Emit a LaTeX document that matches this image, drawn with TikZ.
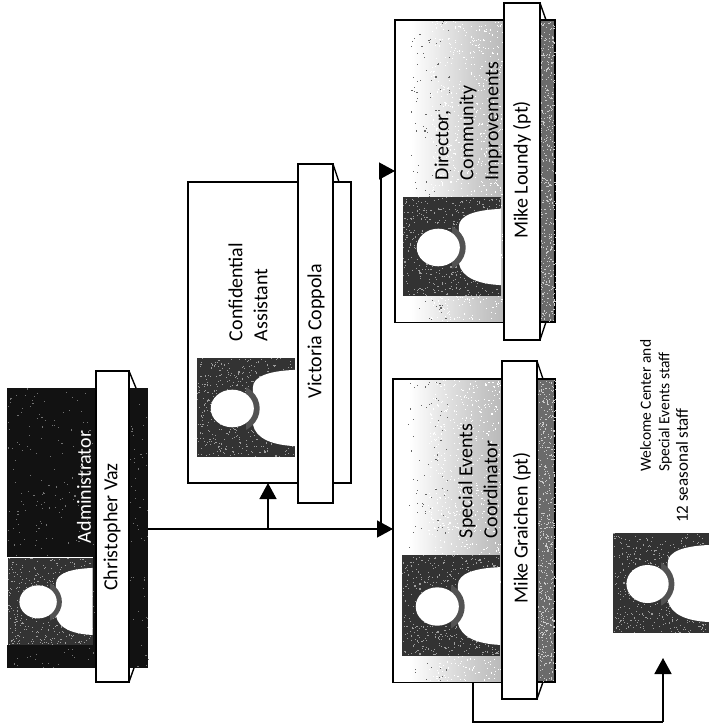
\documentclass[tikz,border=0pt]{standalone}
\usepackage{fontspec}
\setmainfont{Carlito}
\usetikzlibrary{arrows.meta}
\pgfdeclarehorizontalshading{fadegray}{100bp}{color(0bp)=(white);color(32bp)=(white);color(62bp)=(white!80!black);color(100bp)=(white!58!black)}
\definecolor{photodark}{gray}{0.2}
\definecolor{admindark}{gray}{0.07}
\definecolor{stripdark}{gray}{0.42}
\tikzset{
  x=1pt,y=-1pt,
  card/.style={draw=black,line width=2pt,inner sep=0pt,outer sep=0pt},
  plate/.style={card,fill=white},
  bareblock/.style={draw=none,inner sep=0pt,outer sep=0pt},
  lab/.style={rotate=90,font=\fontsize{20}{25}\selectfont,inner sep=0pt,align=left},
  smalllab/.style={rotate=90,font=\fontsize{15.5}{18.5}\selectfont,inner sep=0pt,align=left},
  link/.style={draw=black,line width=1.3pt},
  heavylink/.style={draw=black,line width=1.8pt},
  tip/.style={-{Triangle[length=16pt,width=17pt]}},
}
\newcommand{\specks}[6]{% x0 y0 w h count colour
  \foreach \i in {1,...,#5}{%
    \pgfmathsetmacro{\sa}{#1+#3*rnd}%
    \pgfmathsetmacro{\sb}{#2+#4*rnd}%
    \fill[#6] (\sa,\sb) rectangle ++(1.1,1.1);
  }%
}
\newcommand{\personat}[4]{% x0 y0 w h
  \begin{scope}[shift={(#1,#2)},x=#3pt/100,y=-#4pt/100]
    \fill[photodark] (0,0) rectangle (100,100);
    \specks{0}{0}{99}{99}{500}{white!62!black}
    \fill[white] (100,12) .. controls (75,13) and (57,18) .. (57,30) -- (57,67) .. controls (60,82) and (78,88) .. (100,89) -- cycle;
    \begin{scope}
      \clip (50,0) rectangle (100,100);
      \fill[black!68] (36,51) ellipse (28 and 25);
    \end{scope}
    \fill[white] (36,51) ellipse (22 and 19);
  \end{scope}
}
\newcommand{\cutcorner}[4]{\draw[black,line width=1.4pt] (#1,#2) -- (#3,#4);}
\begin{document}
\begin{tikzpicture}
\pgfmathsetseed{42}
\useasboundingbox (0,0) rectangle (709,728);
\fill[white] (0,0) rectangle (709,728);

% Administrator
\node[bareblock,fill=admindark,minimum width=141pt,minimum height=280pt,anchor=north west] (adminstrip) at (7,388) {};
\specks{7}{388}{141}{280}{350}{white!45!black}
\fill[white] (7,557) rectangle (93,645);
\personat{7.5}{557.5}{85}{87}
\node[plate,minimum width=33pt,minimum height=311pt,anchor=north west] (adminplate) at (96,371) {};
\cutcorner{129}{371}{136}{388}
\cutcorner{129}{682}{134}{668}
\node[lab,white] at (84,487) {Administrator};
\node[lab] at (112,527) {Christopher Vaz};

% Confidential Assistant
\node[card,fill=white,minimum width=163pt,minimum height=301pt,anchor=north west] (confstrip) at (188,182) {};
\personat{197}{358}{98}{99}
\node[plate,minimum width=35pt,minimum height=339pt,anchor=north west] (confplate) at (298,164) {};
\cutcorner{333}{164}{339}{182}
\node[lab] at (248,292) {Confidential\\Assistant};
\node[lab] at (316,331) {Victoria Coppola};

% Director
\node[card,fill=stripdark,minimum width=160pt,minimum height=302pt,anchor=north west] (dirstrip) at (395,20) {};
\specks{538}{21}{17}{300}{500}{white!80!black}
\path[shading=fadegray] (396,21) rectangle (504,321);
\specks{430}{21}{74}{300}{900}{white}
\specks{410}{21}{40}{300}{120}{black!60}
\personat{403}{197}{98}{99}
\node[plate,minimum width=36pt,minimum height=337pt,anchor=north west] (dirplate) at (504,3) {};
\cutcorner{540}{3}{546}{20}
\cutcorner{540}{340}{546}{322}
\node[lab] at (468,121) {Director,\\Community\\Improvements};
\node[lab] at (522,170) {Mike Loundy (pt)};

% Special Events
\node[card,fill=stripdark,minimum width=162pt,minimum height=303pt,anchor=north west] (specstrip) at (393,379) {};
\specks{538}{380}{17}{301}{500}{white!80!black}
\path[shading=fadegray] (394,380) rectangle (502,681);
\specks{428}{380}{74}{301}{900}{white}
\specks{408}{380}{40}{301}{120}{black!60}
\personat{402}{555}{98}{101}
\node[plate,minimum width=35pt,minimum height=338pt,anchor=north west] (specplate) at (502,361) {};
\cutcorner{537}{361}{543}{379}
\cutcorner{537}{699}{543}{682}
\node[lab] at (478,481) {Special Events\\Coordinator};
\node[lab] at (522,528) {Mike Graichen (pt)};

% Seasonal staff
\personat{613}{533}{96}{100}
\coordinate (seasonal) at (663,658);
\node[smalllab,anchor=south west] at (672,472) {Welcome Center and\\Special Events staff};
\node[rotate=90,font=\fontsize{17}{20}\selectfont,inner sep=0pt] at (682,465.5) {12 seasonal staff};

% Connectors
\coordinate (busA) at (381,529);
\coordinate (busB) at (268,529);
\coordinate (dirin) at (381,171);
\coordinate (specout) at (473,722);
\coordinate (seasonalturn) at (663,722);
\draw[link] (adminstrip.east |- busA) -- (busA);
\draw[link,tip] (busB) -- (busB |- confstrip.south);
\draw[link,tip] (busA) -- (specstrip.west |- busA);
\draw[heavylink] (busA) -- (dirin);
\draw[link,tip] (dirin) -- (dirstrip.west |- dirin);
\draw[heavylink] (specout |- specstrip.south) -- (specout) -- (seasonalturn);
\draw[heavylink,tip] (seasonalturn) -- (seasonal);
\end{tikzpicture}
\end{document}
